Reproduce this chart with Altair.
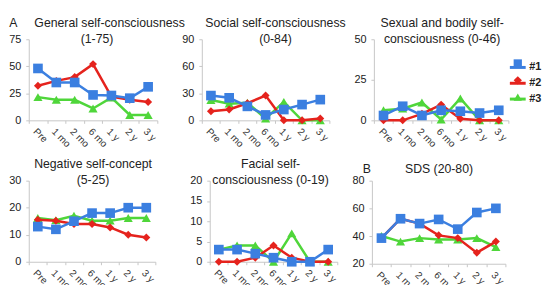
import altair as alt
import pandas as pd

time_points = ["Pre", "1 mo", "2 mo", "6 mo", "1 y", "2 y", "3 y"]
series_names = ["#1", "#2", "#3"]

general_1 = [48, 35, 35, 23.5, 23, 20.5, 31]
general_2 = [32, 36.5, 40, 52, 22, 19, 17]
general_3 = [21.5, 19, 19, 11, 21, 5, 5]

social_1 = [27.5, 25, 15.5, 6, 12, 17.5, 23]
social_2 = [10, 12, 19, 27.5, 0, 0, 2]
social_3 = [22.5, 18.5, 19.5, 2, 20.5, 0, 0]

sexual_1 = [3, 8.7, 3, 6.2, 5.6, 4.5, 6.2]
sexual_2 = [0, 0, 4, 9.7, 1, 0, 0]
sexual_3 = [6.2, 7.2, 11, 0.5, 13.5, 0, 0]

negative_1 = [13, 12, 15, 18, 18, 20, 20]
negative_2 = [15.5, 15.2, 14, 14, 12.7, 10, 9]
negative_3 = [16.2, 15.4, 17, 15.2, 15.2, 16.2, 16.2]

facial_1 = [3, 3, 2, 1, 0, 0, 3]
facial_2 = [0, 0, 1, 4, 1, 0, 0]
facial_3 = [3, 4, 4, 0, 7, 0, 0]

sds_1 = [38.5, 52.5, 49, 52, 45, 57, 60]
sds_2 = [38.5, 52.5, 49, 40.5, 38.5, 28, 36]
sds_3 = [40, 36, 38.5, 37.5, 37.5, 38.5, 32]

colors = ["#3b7fe0", "#e5231d", "#4fd63a"]
shapes = ["square", "diamond", "triangle-up"]
point_sizes = {"#1": 95, "#2": 65, "#3": 85}

FONT = "Liberation Sans"
NB = "\u00a0"

# line colour scale carries one unused extra domain entry so that its legend
# stays separate from the marker legend (both are drawn on the same spot)
color_scale = alt.Scale(domain=series_names + ["_"], range=colors + ["#ffffff"])
fill_scale = alt.Scale(domain=series_names, range=colors)
shape_scale = alt.Scale(domain=series_names, range=shapes)

line_legend = alt.Legend(orient="none", legendX=485, legendY=19, title=None,
                         values=series_names,
                         symbolType="stroke", symbolStrokeWidth=3, symbolSize=256,
                         labelFont=FONT, labelFontSize=11, labelFontWeight="bold",
                         labelColor="#222", labelOffset=2, rowPadding=0, padding=0)
point_legend = alt.Legend(orient="none", legendX=489, legendY=19, title=None,
                          symbolSize=70, symbolStrokeWidth=0, labelExpr="''",
                          labelFontSize=11, rowPadding=5, padding=0)


def make_df(v1, v2, v3):
    rows = []
    for s, vals in zip(series_names, [v1, v2, v3]):
        for t, v in zip(time_points, vals):
            rows.append({"time": t, "series": s, "value": v})
    return pd.DataFrame(rows)


def panel(vals, title, ydom, yvals, w, h, offset, dx=0):
    df = make_df(*vals)
    x = alt.X("time:N", sort=time_points, bandPosition=0.5,
              scale=alt.Scale(type="band", domain=time_points, paddingInner=0, paddingOuter=0),
              axis=alt.Axis(title=None, labelAngle=45, labelAlign="left", labelBaseline="top",
                            tickBand="extent", labelFontSize=10, labelColor="#333",
                            labelFont=FONT, labelPadding=3, tickSize=3,
                            domainColor="#c6c6c6", tickColor="#c6c6c6", grid=False))
    y = alt.Y("value:Q", scale=alt.Scale(domain=ydom, nice=False, zero=False),
              axis=alt.Axis(title=None, values=yvals, labelFontSize=11, labelColor="#222",
                            labelFont=FONT, tickSize=3, labelPadding=5,
                            domainColor="#c6c6c6", tickColor="#c6c6c6", grid=False,
                            minExtent=20, maxExtent=20))
    layers = []
    for s in ["#3", "#2", "#1"]:
        base = alt.Chart(df).transform_filter(alt.datum.series == s)
        layers.append(base.mark_line(strokeWidth=2.5).encode(
            x=x, y=y, color=alt.Color("series:N", scale=color_scale, legend=line_legend)))
        layers.append(base.mark_point(filled=True, size=point_sizes[s], opacity=1, strokeWidth=0).encode(
            x=x, y=y,
            fill=alt.Fill("series:N", scale=fill_scale, legend=point_legend),
            shape=alt.Shape("series:N", scale=shape_scale, legend=point_legend)))
    return alt.layer(*layers).properties(
        width=w, height=h,
        title=alt.TitleParams(text=title, offset=offset, dx=dx))


p1 = panel([general_1, general_2, general_3],
           ["A" + NB * 5 + "General self-consciousness", "(1-75)"],
           [0, 75], [0, 25, 50, 75], 130, 82, -12, dx=4)
p2 = panel([social_1, social_2, social_3], ["Social self-consciousness", "(0-84)"],
           [0, 90], [0, 30, 60, 90], 129, 82, -12, dx=10)
p3 = panel([sexual_1, sexual_2, sexual_3], ["Sexual and bodily self-", "consciousness (0-46)"],
           [0, 50], [0, 25, 50], 136, 82, -12, dx=1)
p4 = panel([negative_1, negative_2, negative_3], ["Negative self-concept", "(5-25)"],
           [0, 30], [0, 10, 20, 30], 128, 82, -12, dx=1)
p5 = panel([facial_1, facial_2, facial_3], ["Facial self-", "consciousness (0-19)"],
           [0, 20], [0, 5, 10, 15, 20], 129, 82, -12, dx=-3)
p6 = panel([sds_1, sds_2, sds_3], "B" + NB * 10 + "SDS (20-80)",
           [20, 80], [20, 40, 60, 80], 135, 84, -1, dx=-21)

row1 = alt.hconcat(p1, p2, p3, spacing=45, bounds="flush")
row2 = alt.hconcat(p4, alt.hconcat(p5, p6, spacing=13), spacing=33)

chart = alt.vconcat(row1, row2, spacing=9).properties(
    padding={"left": 0, "top": 7, "right": 0, "bottom": 0}
).configure_view(stroke=None).configure_title(
    font=FONT, fontSize=12.4, fontWeight="normal", color="#222",
    baseline="bottom", lineHeight=16, anchor="middle"
)

chart.save("out.html", embed_options={"renderer": "svg", "actions": False})
